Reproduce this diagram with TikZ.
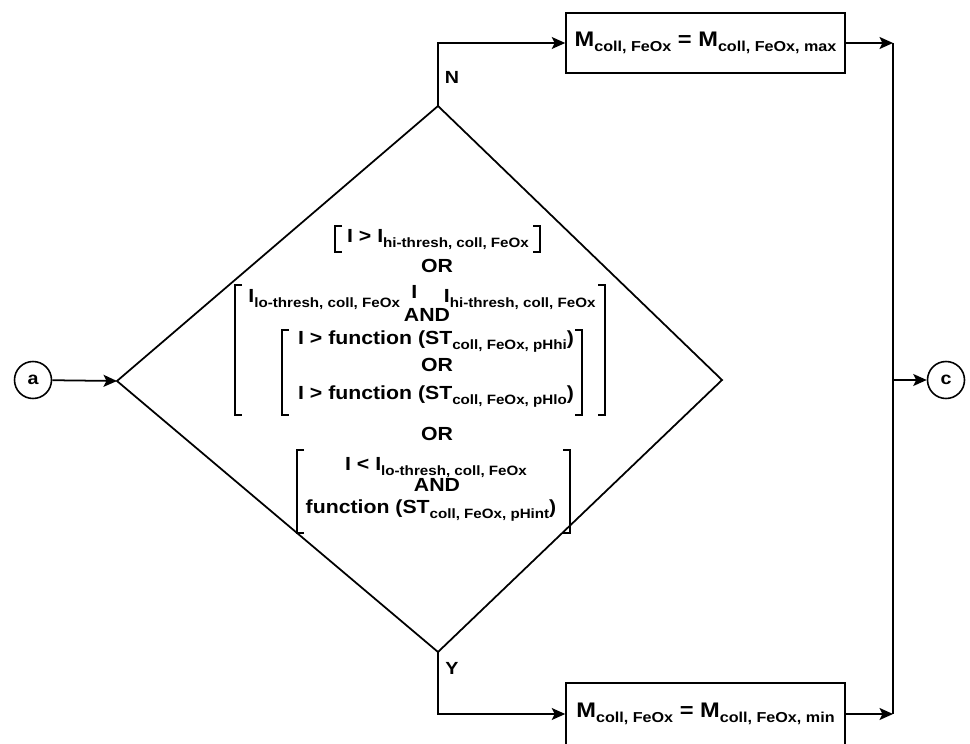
\documentclass[tikz,border=0pt]{standalone}
\usepackage{fontspec}
\setmainfont{Liberation Sans}[FakeStretch=1.12]
\usetikzlibrary{arrows.meta}

% lowered, smaller subscript text
\newcommand{\lowsub}[1]{\raisebox{-0.45ex}{\fontsize{7.7}{9}\selectfont\bfseries #1}}
\newcommand{\boxsub}[1]{\raisebox{-0.45ex}{\fontsize{8.2}{9}\selectfont\bfseries #1}}

\begin{document}
\begin{tikzpicture}[x=0.2mm, y=-0.2mm,
    cond/.style={font=\fontsize{10.8}{12}\selectfont\bfseries, inner sep=0pt, anchor=mid},
    result/.style={rectangle, draw=black, line width=0.9pt, minimum width=5.58cm,
                   minimum height=1.2cm, font=\fontsize{12}{13}\selectfont\bfseries},
    connector/.style={circle, draw=black, line width=0.9pt, minimum size=0.74cm,
                      inner sep=0pt, font=\fontsize{10}{12}\selectfont\bfseries},
    tag/.style={font=\fontsize{10}{12}\selectfont\bfseries, inner sep=0pt},
    flow/.style={-{Stealth[length=2.7mm,width=2.4mm,inset=0.6mm]}, line width=1pt},
    line/.style={line width=1pt},
    bracket/.style={line width=0.8pt}
]
\useasboundingbox (0,0) rectangle (970,743);

% Decision diamond
\coordinate (dtop) at (438,106);
\coordinate (dright) at (722,380);
\coordinate (dbot) at (438,652);
\coordinate (dleft) at (117,381);
\draw[line] (dtop) -- (dright) -- (dbot) -- (dleft) -- cycle;

% Condition text
\node[cond] (l1) at (438,238) {I > I\lowsub{hi-thresh, coll, FeOx}};
\node[cond] (l2) at (437,268) {OR};
\node[cond] (l3) at (422,298) {I\lowsub{lo-thresh, coll, FeOx}\hspace{0.6em}\raisebox{0.4ex}{I}\hspace{1.4em}I\lowsub{hi-thresh, coll, FeOx}};
\node[cond] (l4) at (427,317) {AND};
\node[cond] (l5) at (436,340) {I > function (ST\lowsub{coll, FeOx, pHhi})};
\node[cond] (l6) at (437,367) {OR};
\node[cond] (l7) at (436,395) {I > function (ST\lowsub{coll, FeOx, pHlo})};
\node[cond] (l8) at (437,436) {OR};
\node[cond] (l9) at (436,466) {I < I\lowsub{lo-thresh, coll, FeOx}};
\node[cond] (l10) at (437,487) {AND};
\node[cond] (l11) at (431,509) {function (ST\lowsub{coll, FeOx, pHint})};

% Brackets
\foreach \xa/\ya/\xb/\yb in {335/226/540/252, 235/285/605/415, 282/330/582/415, 297/450/570/533} {
    \draw[bracket] (\xa+7,\ya) -- (\xa,\ya) -- (\xa,\yb) -- (\xa+7,\yb);
    \draw[bracket] (\xb-7,\ya) -- (\xb,\ya) -- (\xb,\yb) -- (\xb-7,\yb);
}

% Results
\node[result] (maxbox) at (705.5,43) {M\boxsub{coll, FeOx} = M\boxsub{coll, FeOx, max}};
\node[result, minimum height=1.24cm] (minbox) at (705.5,714) {M\boxsub{coll, FeOx} = M\boxsub{coll, FeOx, min}};

% Connectors
\node[connector] (a) at (33,380) {a};
\node[connector] (c) at (946,380) {c};

\coordinate (jtop) at (893,43);
\coordinate (jbot) at (893,714);
\coordinate (jmid) at (893,380);

\draw[flow] (a) -- (dleft);
\draw[flow] (dtop) |- (maxbox.west);
\draw[flow] (dbot) |- (minbox.west);
\node[tag] (labN) at (452,77) {N};
\node[tag] (labY) at (452,668) {Y};

\draw[flow] (maxbox.east) -- (jtop);
\draw[flow] (minbox.east) -- (jbot);
\draw[line] (jtop) -- (jbot);
\draw[flow] (jmid) -- (c);

\end{tikzpicture}
\end{document}
